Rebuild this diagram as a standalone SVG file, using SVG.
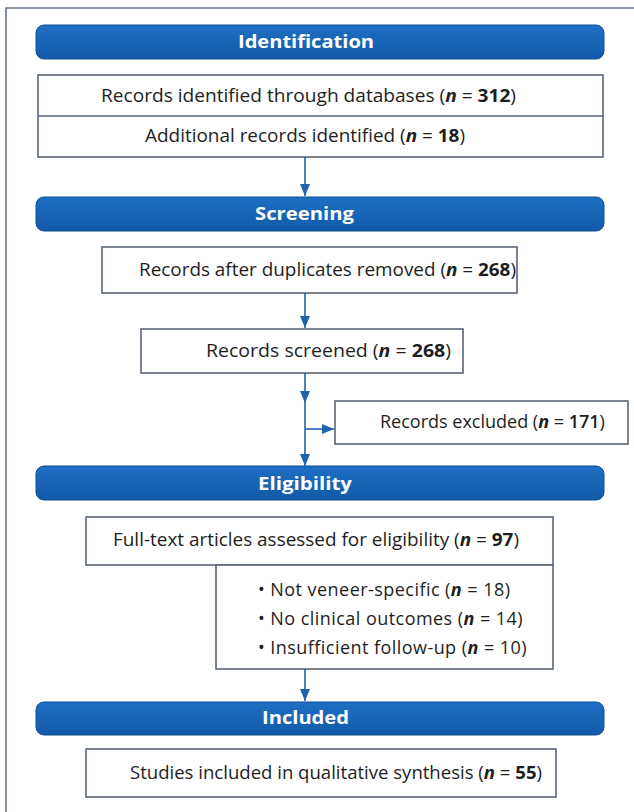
<svg xmlns="http://www.w3.org/2000/svg" width="634" height="812" viewBox="0 0 634 812">
<defs>
<linearGradient id="barGrad" x1="0" y1="0" x2="0" y2="1">
<stop offset="0" stop-color="#1f6fc4"/>
<stop offset="1" stop-color="#125aa8"/>
</linearGradient>
<marker id="ah" viewBox="0 0 12 10" refX="12" refY="5" markerWidth="12" markerHeight="10" markerUnits="userSpaceOnUse" orient="auto">
<path d="M0,0 L12,5 L0,10 Z" fill="#1f63ad"/>
</marker>
<style>
.bar{fill:url(#barGrad);stroke:#0f4f95;stroke-width:1}
.hd{font-family:"Open Sans","Noto Sans",sans-serif;font-weight:700;font-size:18px;fill:#ffffff}
.box{fill:#ffffff;stroke:#5a6679;stroke-width:1.6}
.t{font-family:"Open Sans","Noto Sans",sans-serif;font-size:18px;fill:#1e1e1e}
.bl{letter-spacing:0.45px}
.n{font-weight:700;font-style:italic}
.b{font-weight:700}
.sb{font-weight:600}
.con{stroke:#1f63ad;stroke-width:1.6;fill:none}
.frame{stroke:#66748a;stroke-width:1.6;fill:none}
</style>
</defs>
<rect width="634" height="812" fill="#ffffff"/>
<path class="frame" d="M6,812 V8 H634"/>

<g id="hdr-identification">
<rect class="bar" x="36" y="25" width="568" height="34" rx="8"/>
<text class="hd" x="238" y="48" textLength="136" lengthAdjust="spacingAndGlyphs">Identification</text>
</g>

<g id="node-identified">
<rect class="box" x="38" y="75" width="565" height="82"/>
<line x1="38" y1="116" x2="603" y2="116" stroke="#5a6679" stroke-width="1.6"/>
<text class="t" x="101" y="102" textLength="415" lengthAdjust="spacingAndGlyphs">Records identified through databases (<tspan class="n">n</tspan> = <tspan class="b">312</tspan>)</text>
<text class="t" x="145" y="142" textLength="320" lengthAdjust="spacingAndGlyphs">Additional records identified (<tspan class="n">n</tspan> = <tspan class="b">18</tspan>)</text>
</g>

<g id="hdr-screening">
<rect class="bar" x="36" y="197" width="568" height="34" rx="8"/>
<text class="hd" x="255" y="220" textLength="99" lengthAdjust="spacingAndGlyphs">Screening</text>
</g>

<g id="node-dedup">
<rect class="box" x="102" y="247" width="415" height="46"/>
<text class="t" x="139" y="276" textLength="377" lengthAdjust="spacingAndGlyphs">Records after duplicates removed (<tspan class="n">n</tspan> = <tspan class="b">268</tspan>)</text>
</g>

<g id="node-screened">
<rect class="box" x="141" y="329" width="322" height="44"/>
<text class="t" x="206" y="357" textLength="245" lengthAdjust="spacingAndGlyphs">Records screened (<tspan class="n">n</tspan> = <tspan class="b">268</tspan>)</text>
</g>

<g id="node-excluded">
<rect class="box" x="335" y="401" width="293" height="43"/>
<text class="t" x="380" y="428">Records excluded (<tspan class="n">n</tspan> = <tspan class="sb">171</tspan>)</text>
</g>

<g id="hdr-eligibility">
<rect class="bar" x="36" y="466" width="568" height="34" rx="8"/>
<text class="hd" x="258" y="490" textLength="94" lengthAdjust="spacingAndGlyphs">Eligibility</text>
</g>

<g id="node-fulltext">
<rect class="box" x="86" y="517" width="467" height="48"/>
<text class="t" x="113" y="546" textLength="406" lengthAdjust="spacingAndGlyphs">Full-text articles assessed for eligibility (<tspan class="n">n</tspan> = <tspan class="b">97</tspan>)</text>
</g>

<g id="node-reasons">
<rect class="box" x="216" y="565" width="337" height="104"/>
<text class="t bl" x="258" y="596">• Not veneer-specific (<tspan class="n">n</tspan> = 18)</text>
<text class="t bl" x="258" y="625">• No clinical outcomes (<tspan class="n">n</tspan> = 14)</text>
<text class="t bl" x="258" y="654">• Insufficient follow-up (<tspan class="n">n</tspan> = 10)</text>
</g>

<g id="hdr-included">
<rect class="bar" x="36" y="702" width="568" height="33" rx="8"/>
<text class="hd" x="262" y="724" textLength="87" lengthAdjust="spacingAndGlyphs">Included</text>
</g>

<g id="node-included">
<rect class="box" x="86" y="749" width="470" height="48"/>
<text class="t" x="130" y="779" textLength="412" lengthAdjust="spacingAndGlyphs">Studies included in qualitative synthesis (<tspan class="n">n</tspan> = <tspan class="b">55</tspan>)</text>
</g>

<g id="connectors">
<line class="con" x1="305" y1="157" x2="305" y2="196" marker-end="url(#ah)"/>
<line class="con" x1="305" y1="293" x2="305" y2="328" marker-end="url(#ah)"/>
<line class="con" x1="305" y1="373" x2="305" y2="403" marker-end="url(#ah)"/>
<line class="con" x1="305" y1="403" x2="305" y2="466" marker-end="url(#ah)"/>
<line class="con" x1="305" y1="429" x2="334" y2="429" marker-end="url(#ah)"/>
<line class="con" x1="305" y1="669" x2="305" y2="701" marker-end="url(#ah)"/>
</g>
</svg>
